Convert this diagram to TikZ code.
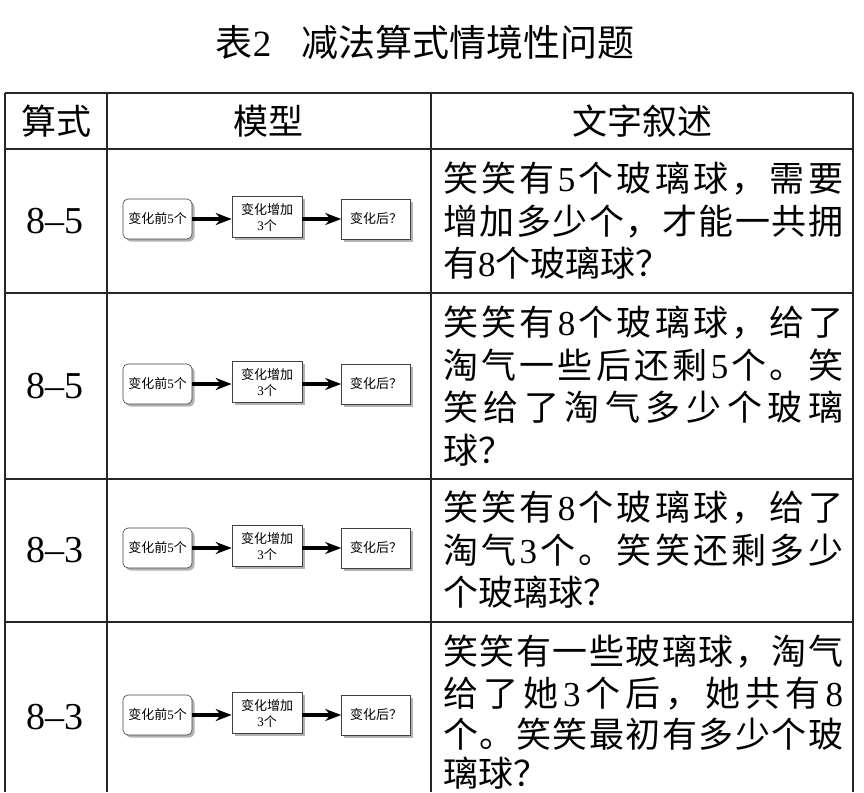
\documentclass[tikz,border=0pt]{standalone}
\usepackage{fontspec}
\setmainfont{Liberation Serif}
\newfontfamily\cjk{Noto Sans CJK SC}
\usetikzlibrary{arrows.meta,shadows}
\newcommand\ser{\rmfamily}
\def\spr#1#2\relax{#1\ifx\relax#2\relax\else\hfill\spr#2\relax\fi}
\newcommand\fullline[1]{\makebox[400pt][l]{\spr#1\relax}}
\begin{document}
\begin{tikzpicture}[x=1pt,y=-1pt,
  tline/.style={line width=1.3pt, draw=black!85},
  mbox/.style={draw=black!75, line width=0.6pt, fill=white, minimum width=69pt,
    minimum height=40pt, inner sep=1pt, align=center,
    font=\cjk\fontsize{13}{16}\selectfont,
    drop shadow={shadow xshift=2.5pt, shadow yshift=-2.5pt, fill=black!50, opacity=0.6}},
  arr/.style={line width=3.2pt, draw=black, -{Stealth[length=16pt,width=12pt]}},
  txt/.style={anchor=base west, inner sep=0pt, font=\cjk\fontsize{35}{40}\selectfont},
  head/.style={inner sep=0pt, font=\cjk\fontsize{35}{40}\selectfont},
  lab/.style={inner sep=0pt, font=\fontsize{38}{40}\selectfont}]
\useasboundingbox (0,0) rectangle (864,792);
\fill[white] (0,0) rectangle (864,792);
% title
\node[inner sep=0pt, font=\cjk\fontsize{37}{40}\selectfont] (title) at (425,42) {表{\ser 2}\hspace{30pt}减法算式情境性问题};
% table rules
\draw[tline] (5,93) -- (853,93);
\draw[tline] (5,149) -- (853,149);
\draw[tline] (5,293) -- (853,293);
\draw[tline] (5,479) -- (853,479);
\draw[tline] (5,622) -- (853,622);
\draw[tline] (5,93) -- (5,792);
\draw[tline] (107,93) -- (107,792);
\draw[tline] (431,93) -- (431,792);
\draw[tline] (853,93) -- (853,792);
% header
\node[head] (h1) at (56,121) {算式};
\node[head] (h2) at (268,121) {模型};
\node[head] (h3) at (642,121) {文字叙述};
% labels
\node[lab] (l1) at (55,221) {8–5};
\node[lab] (l2) at (55,386) {8–5};
\node[lab] (l3) at (55,550) {8–3};
\node[lab] (l4) at (55,717) {8–3};
% models
\foreach \r/\cy in {1/221,2/386,3/550,4/717} {
  \node[mbox, rounded corners=5pt] (b\r a) at (157.5,\cy-2) {变化前{\ser 5}个};
  \node[mbox, minimum width=70pt, minimum height=41pt] (b\r b) at (267,\cy-4) {变化增加\\{\ser 3}个};
  \node[mbox] (b\r c) at (376,\cy-2) {变化后？};
  \draw[arr] (b\r a.east) -- (b\r a.east -| b\r b.west);
  \draw[arr] (b\r b.east |- b\r c.west) -- (b\r c.west);
}
% row 1 text
\node[txt] (t11) at (443,191.5) {\fullline{笑笑有{{\ser 5}}个玻璃球，需要}};
\node[txt] (t12) at (443,234) {\fullline{增加多少个，才能一共拥}};
\node[txt] (t13) at (443,276.5) {有{\ser 8}个玻璃球？};
% row 2 text
\node[txt] (t21) at (443,335) {\fullline{笑笑有{{\ser 8}}个玻璃球，给了}};
\node[txt] (t22) at (443,378) {\fullline{淘气一些后还剩{{\ser 5}}个。笑}};
\node[txt] (t23) at (443,420) {\fullline{笑给了淘气多少个玻璃}};
\node[txt] (t24) at (443,463) {球？};
% row 3 text
\node[txt] (t31) at (443,520.5) {\fullline{笑笑有{{\ser 8}}个玻璃球，给了}};
\node[txt] (t32) at (443,563) {\fullline{淘气{{\ser 3}}个。笑笑还剩多少}};
\node[txt] (t33) at (443,605.5) {个玻璃球？};
% row 4 text
\node[txt] (t41) at (443,664) {\fullline{笑笑有一些玻璃球，淘气}};
\node[txt] (t42) at (443,706) {\fullline{给了她{{\ser 3}}个后，她共有{{\ser 8}}}};
\node[txt] (t43) at (443,747) {\fullline{个。笑笑最初有多少个玻}};
\node[txt] (t44) at (443,786) {璃球？};
\end{tikzpicture}
\end{document}
